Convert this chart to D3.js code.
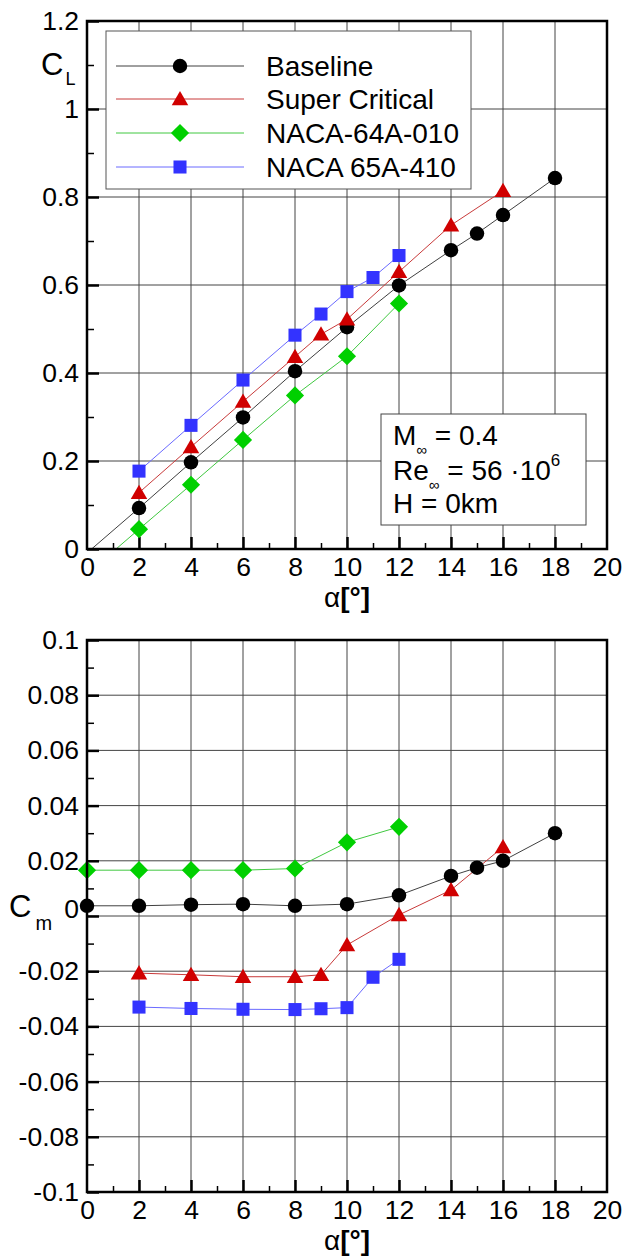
<!DOCTYPE html>
<html><head><meta charset="utf-8">
<script src="https://cdn.jsdelivr.net/npm/d3@7"></script>
<style>
body{margin:0;background:#fff}
svg{display:block}
text{font-family:"Liberation Sans",Arial,Helvetica,sans-serif;fill:#000}
</style>
</head><body>
<svg id="c" width="622" height="1260"></svg>
<script>
// ---------- data ----------
const alphaTicks = [0,2,4,6,8,10,12,14,16,18,20];
const alphaMinor = [1,3,5,7,9,11,13,15,17,19];
const clTicks = [0,0.2,0.4,0.6,0.8,1,1.2];
const clMinor = [0.1,0.3,0.5,0.7,0.9,1.1];
const cmTicks = [-0.1,-0.08,-0.06,-0.04,-0.02,0,0.02,0.04,0.06,0.08,0.1];
const cmMinor = [-0.09,-0.07,-0.05,-0.03,-0.01,0.01,0.03,0.05,0.07,0.09];

const seriesNames = ["Baseline","Super Critical","NACA-64A-010","NACA 65A-410"];

const alphaBaseline = [0,2,4,6,8,10,12,14,15,16,18];
const clBaseline    = [-0.009,0.093,0.197,0.299,0.404,0.504,0.599,0.679,0.717,0.759,0.843];
const cmBaseline    = [0.0037,0.0037,0.0041,0.0043,0.0037,0.0043,0.0075,0.0145,0.0175,0.0200,0.0300];

const alphaSuper = [2,4,6,8,9,10,12,14,16];
const clSuper    = [0.128,0.232,0.335,0.437,0.488,0.522,0.630,0.736,0.814];
const cmSuper    = [-0.0207,-0.0213,-0.0220,-0.0220,-0.0213,-0.0105,0.0004,0.0094,0.0250];

const alpha64A = [0,2,4,6,8,10,12];
const cl64A    = [-0.057,0.045,0.146,0.248,0.349,0.438,0.558];
const cm64A    = [0.0166,0.0166,0.0166,0.0166,0.0172,0.0267,0.0323];

const alpha65A = [2,4,6,8,9,10,11,12];
const cl65A    = [0.177,0.281,0.384,0.486,0.534,0.585,0.617,0.667];
const cm65A    = [-0.0330,-0.0335,-0.0338,-0.0339,-0.0336,-0.0332,-0.0222,-0.0157];

// ---------- styles ----------
const styles = [
  {marker:"#000000", line:"#404040", sym:"circle"},
  {marker:"#d00000", line:"#c83a3a", sym:"triangle"},
  {marker:"#00d000", line:"#40c840", sym:"diamond"},
  {marker:"#3333ff", line:"#6a6aff", sym:"square"}
];

function symPath(type){
  if(type==="circle") return d3.symbol(d3.symbolCircle,165)();
  if(type==="triangle") return d3.symbol(d3.symbolTriangle,118)();
  if(type==="diamond") return d3.symbol(d3.symbolSquare,165)();
  return d3.symbol(d3.symbolSquare,170)();
}
function symTransform(type,x,y){
  if(type==="diamond") return `translate(${x},${y}) rotate(45)`;
  if(type==="triangle") return `translate(${x},${y+1.5})`;
  return `translate(${x},${y})`;
}

const svg = d3.select("#c");
const fmt = d => String(+(+d).toFixed(3));

function panel(cfg){
  const x = d3.scaleLinear().domain([0,20]).range([87,607]);
  const y = d3.scaleLinear().domain(cfg.domain).range(cfg.yr);
  const g = svg.append("g");
  const id = "clip"+cfg.key;
  svg.append("defs").append("clipPath").attr("id",id)
    .append("rect").attr("x",87).attr("y",cfg.yr[1]).attr("width",520).attr("height",cfg.yr[0]-cfg.yr[1]);

  // grid
  g.append("g").selectAll("line").data(alphaTicks.slice(1,-1)).join("line")
    .attr("x1",d=>x(d)).attr("x2",d=>x(d)).attr("y1",cfg.yr[0]).attr("y2",cfg.yr[1])
    .attr("stroke","#444").attr("stroke-width",1);
  g.append("g").selectAll("line").data(cfg.ticks.slice(1,-1)).join("line")
    .attr("y1",d=>y(d)).attr("y2",d=>y(d)).attr("x1",87).attr("x2",607)
    .attr("stroke","#444").attr("stroke-width",1);

  // minor ticks
  const ax = g.append("g").attr("transform",`translate(0,${cfg.yr[0]})`)
    .call(d3.axisBottom(x).tickValues(alphaMinor).tickSize(-6).tickFormat(""));
  const ay = g.append("g").attr("transform",`translate(87,0)`)
    .call(d3.axisLeft(y).tickValues(cfg.minor).tickSize(-7).tickFormat(""));
  [ax,ay].forEach(a=>{a.select(".domain").remove();a.selectAll("line").attr("stroke","#000").attr("stroke-width",1.5);});

  // major ticks + labels
  const bx = g.append("g").attr("transform",`translate(0,${cfg.yr[0]})`)
    .call(d3.axisBottom(x).tickValues(alphaTicks).tickSize(-12).tickPadding(8).tickFormat(fmt));
  const by = g.append("g").attr("transform",`translate(87,0)`)
    .call(d3.axisLeft(y).tickValues(cfg.ticks).tickSize(-12).tickPadding(8).tickFormat(fmt));
  [bx,by].forEach(a=>{a.select(".domain").remove();a.selectAll("line").attr("stroke","#000").attr("stroke-width",2.5);
    a.selectAll("text").attr("font-size",26.5).attr("fill","#000").style("font-family",'"Liberation Sans",Arial,sans-serif');});
  bx.selectAll(".tick").filter(d=>d===0||d===20).selectAll("line").remove();
  if(cfg.key==="cm") by.selectAll(".tick").filter(d=>d===0).select("text").attr("y",-7);

  // series
  const data = cfg.series;
  data.forEach((s,i)=>{
    const pts = s.a.map((a,j)=>[a,s.v[j]]);
    g.append("path").attr("clip-path",`url(#${id})`)
      .attr("d",d3.line().x(d=>x(d[0])).y(d=>y(d[1]))(pts))
      .attr("fill","none").attr("stroke",styles[i].line).attr("stroke-width",1);
  });
  data.forEach((s,i)=>{
    const pts = s.a.map((a,j)=>[a,s.v[j]]).filter(d=>d[1]>=cfg.domain[0]&&d[1]<=cfg.domain[1]);
    g.append("g").selectAll("path").data(pts).join("path")
      .attr("d",symPath(styles[i].sym))
      .attr("transform",d=>symTransform(styles[i].sym,x(d[0]),y(d[1])))
      .attr("fill",styles[i].marker);
  });

  // frame
  g.append("rect").attr("x",87).attr("y",cfg.yr[1]).attr("width",520).attr("height",cfg.yr[0]-cfg.yr[1])
    .attr("fill","none").attr("stroke","#000").attr("stroke-width",2.5);

  // x title
  const t = g.append("text").attr("x",x(10)).attr("y",cfg.yr[0]+58).attr("text-anchor","middle").attr("font-size",28);
  t.append("tspan").text("α");
  t.append("tspan").attr("font-weight","bold").text("[°]");
  return {g,x,y};
}

const panelCL = panel({key:"cl",domain:[0,1.2],yr:[549,21],ticks:clTicks,minor:clMinor,
  series:[{a:alphaBaseline,v:clBaseline},{a:alphaSuper,v:clSuper},{a:alpha64A,v:cl64A},{a:alpha65A,v:cl65A}]});
const panelCM = panel({key:"cm",domain:[-0.1,0.1],yr:[1192,640],ticks:cmTicks,minor:cmMinor,
  series:[{a:alphaBaseline,v:cmBaseline},{a:alphaSuper,v:cmSuper},{a:alpha64A,v:cm64A},{a:alpha65A,v:cm65A}]});

// y titles
const clT = svg.append("text").attr("x",41).attr("y",75).attr("font-size",31);
clT.append("tspan").text("C");
clT.append("tspan").attr("font-size",18).attr("dy",10).attr("dx",2).text("L");
const cmT = svg.append("text").attr("x",9).attr("y",917).attr("font-size",31);
cmT.append("tspan").text("C");
cmT.append("tspan").attr("font-size",20).attr("dy",13).attr("dx",4).text("m");

// legend
const lg = svg.append("g");
lg.append("rect").attr("x",106).attr("y",31).attr("width",365).attr("height",158)
  .attr("fill","#fff").attr("stroke","#555").attr("stroke-width",1);
const rowY = [66,99,133,167];
seriesNames.forEach((n,i)=>{
  lg.append("line").attr("x1",116).attr("x2",244).attr("y1",rowY[i]).attr("y2",rowY[i])
    .attr("stroke",styles[i].line).attr("stroke-width",1);
  lg.append("path").attr("d",symPath(styles[i].sym))
    .attr("transform",symTransform(styles[i].sym,180,rowY[i])).attr("fill",styles[i].marker);
  lg.append("text").attr("x",266).attr("y",rowY[i]+10).attr("font-size",28).text(n);
});

// annotation
const an = svg.append("g");
an.append("rect").attr("x",381).attr("y",414).attr("width",205).attr("height",111)
  .attr("fill","#fff").attr("stroke","#444").attr("stroke-width",1);
const t1 = an.append("text").attr("x",393).attr("y",445).attr("font-size",28);
t1.append("tspan").text("M");
t1.append("tspan").attr("font-size",15).attr("dy",10).text("∞");
t1.append("tspan").attr("dy",-10).text(" = 0.4");
const t2 = an.append("text").attr("x",393).attr("y",480).attr("font-size",28);
t2.append("tspan").text("Re");
t2.append("tspan").attr("font-size",15).attr("dy",10).text("∞");
t2.append("tspan").attr("dy",-10).text(" = 56 ·10");
t2.append("tspan").attr("font-size",17).attr("dy",-14).text("6");
an.append("text").attr("x",393).attr("y",513).attr("font-size",28).text("H = 0km");
</script>
</body></html>
